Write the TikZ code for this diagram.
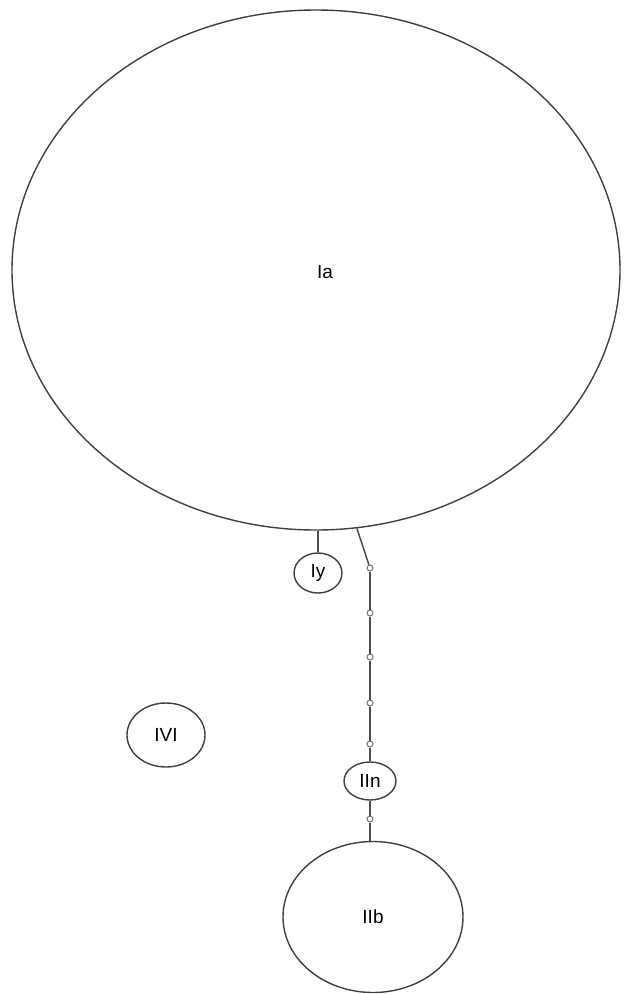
\documentclass[tikz,border=0pt]{standalone}
\usepackage{fontspec}
\setmainfont{Liberation Sans}
\usetikzlibrary{positioning,shapes.geometric}

\begin{document}
\begin{tikzpicture}[
			x=1pt,y=-1pt,
			type/.style={
				draw=black!75,
				line width=1.4pt,
				ellipse,
				inner sep=0pt,
				font=\fontsize{19}{22}\selectfont
			},
			link/.style={draw=black!70,line width=1.5pt},
			knot/.style={
				draw=black!55,
				fill=white,
				circle,
				line width=1pt,
				inner sep=0pt,
				minimum size=6pt
			}
			]
			
			\useasboundingbox (0,0) rectangle (625,994);
			
			\node[type,minimum width=608,minimum height=520] (ia) at (316,270) {};
			\node[font=\fontsize{19}{22}\selectfont] (ialab) at (325,272) {Ia};
			
			\node[type,minimum width=48,minimum height=40] (iy) at (318,573) {Iy};
			
			\node[type,minimum width=78,minimum height=64] (ivi) at (166,735) {IVI};
			
			\node[type,minimum width=52,minimum height=38] (iin) at (370,781) {IIn};
			
			\node[type,minimum width=180,minimum height=151] (iib) at (373,917) {IIb};
			
			\node[knot] (k1) at (370,568) {};
			\node[knot] (k2) at (370,613) {};
			\node[knot] (k3) at (370,657) {};
			\node[knot] (k4) at (370,703) {};
			\node[knot] (k5) at (370,744) {};
			\node[knot] (k6) at (370,819) {};
			
			\draw[link] (iy.north) -- (iy.north |- ia.south);
			\draw[link] (ia.-81.5) -- (k1);
			\draw[link] (k1)--(k2);
			\draw[link] (k2)--(k3);
			\draw[link] (k3)--(k4);
			\draw[link] (k4)--(k5);
			\draw[link] (k5)--(iin);
			\draw[link] (iin)--(k6);
			\draw[link] (k6)--(k6 |- iib.north);
			
		\end{tikzpicture}
\end{document}
